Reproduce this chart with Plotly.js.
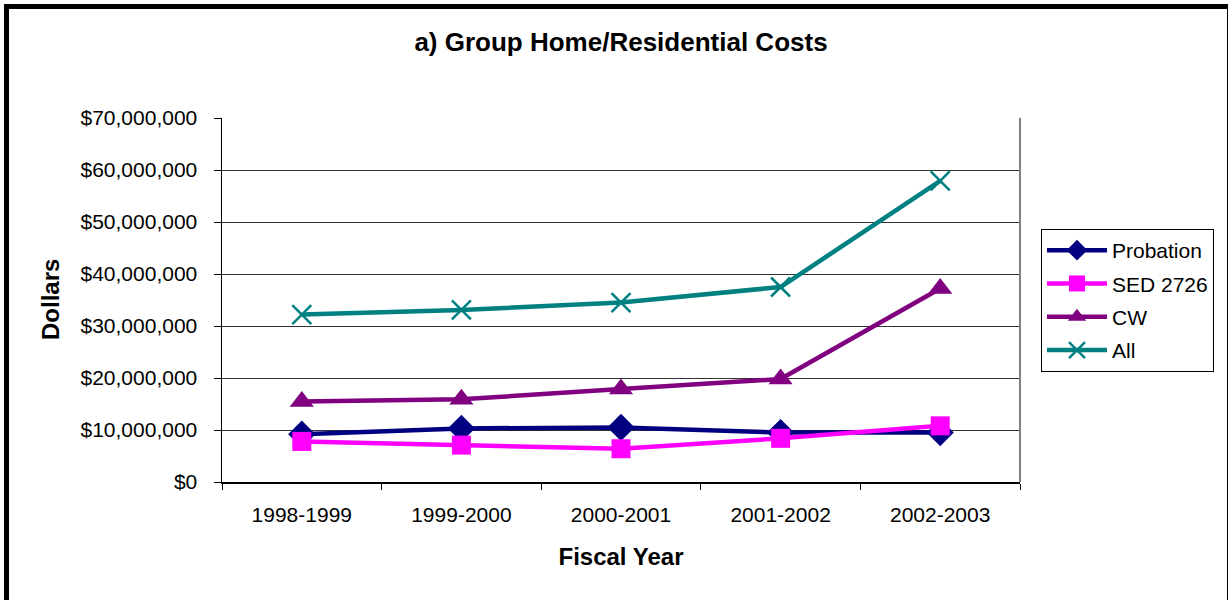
<!DOCTYPE html>
<html>
<head>
<meta charset="utf-8">
<script src="https://cdn.plot.ly/plotly-3.0.1.min.js"></script>
<style>
  html, body { margin: 0; padding: 0; background: #ffffff; }
  #frame {
    position: absolute; left: 4px; top: 4px;
    width: 1218px; height: 593px;
    border-left: 5px solid #000; border-top: 5px solid #000;
    border-right: 2px solid #000; border-bottom: 2px solid #808080;
    box-sizing: content-box;
  }
  #chart { position: absolute; left: 0; top: 0; width: 1228px; height: 600px; }
</style>
</head>
<body>
<div id="frame"></div>
<div id="chart"></div>
<script>
const years = ["1998-1999", "1999-2000", "2000-2001", "2001-2002", "2002-2003"];
const probation = [9200000, 10300000, 10500000, 9500000, 9500000];
const sed2726 = [7800000, 7100000, 6400000, 8400000, 10800000];
const cw = [15500000, 15900000, 17900000, 19800000, 37200000];
const allCosts = [32200000, 33100000, 34500000, 37500000, 57900000];

const font = "Liberation Sans, Arial, sans-serif";

function series(name, y, color, symbol, size, lw) {
  return {
    type: "scatter", mode: "lines+markers", name: name, legendgroup: name,
    x: years, y: y,
    line: { color: color, width: 4.5 },
    marker: { color: color, symbol: symbol, size: size, line: { color: color, width: lw } }
  };
}

const traces = [
  series("Probation", probation, "#000080", "diamond", 21, 0),
  series("SED 2726", sed2726, "#FF00FF", "square", 19, 0),
  series("CW", cw, "#800080", "triangle-up", 21, 0),
  series("All", allCosts, "#008080", "x-thin-open", 19, 2.5)
];

const layout = {
  width: 1228, height: 600,
  paper_bgcolor: "rgba(0,0,0,0)", plot_bgcolor: "#ffffff",
  margin: { l: 222, r: 208, t: 118, b: 118 },
  font: { family: font, size: 21, color: "#000" },
  title: {
    text: "<b>a) Group Home/Residential Costs</b>",
    font: { family: font, size: 26, color: "#000" },
    xref: "paper", x: 0.5, xanchor: "center",
    yref: "container", y: 1 - 42 / 600, yanchor: "middle"
  },
  xaxis: {
    type: "category",
    tickson: "boundaries",
    ticks: "outside", ticklen: 6, tickcolor: "#000", tickwidth: 1,
    ticklabelstandoff: 13,
    showline: true, linecolor: "#000", linewidth: 1.5,
    mirror: false, showgrid: false, zeroline: false,
    tickfont: { family: font, size: 21 },
    title: { text: "<b>Fiscal Year</b>", font: { family: font, size: 24 } },
    range: [-0.5, 4.5]
  },
  yaxis: {
    range: [0, 70000000], dtick: 10000000, tick0: 0,
    tickprefix: "$", tickformat: ",.0f",
    ticks: "outside", ticklen: 7, tickcolor: "#000", tickwidth: 1,
    ticklabelstandoff: 12,
    showline: true, linecolor: "#000", linewidth: 1.5,
    showgrid: true, gridcolor: "#333", gridwidth: 1,
    zeroline: false,
    tickfont: { family: font, size: 21 }
  },
  annotations: [
    { text: "<b>Dollars</b>", textangle: -90, showarrow: false,
      xref: "paper", yref: "paper", x: (50 - 222) / 798, y: 0.5,
      xanchor: "center", yanchor: "middle",
      font: { family: font, size: 24, color: "#000" } }
  ],
  legend: {
    x: (1041 - 222) / 798, xanchor: "left",
    y: (482 - 229) / 364, yanchor: "top",
    bordercolor: "#000", borderwidth: 1, bgcolor: "#fff",
    font: { family: font, size: 21 },
    traceorder: "grouped", tracegroupgap: 3, itemwidth: 60
  },
  shapes: [
    { type: "line", xref: "paper", yref: "paper", x0: 1, x1: 1, y0: 0, y1: 1,
      line: { color: "#808080", width: 2 } }
  ],
  showlegend: true
};

Plotly.newPlot("chart", traces, layout, { displayModeBar: false, staticPlot: true });
</script>
</body>
</html>
